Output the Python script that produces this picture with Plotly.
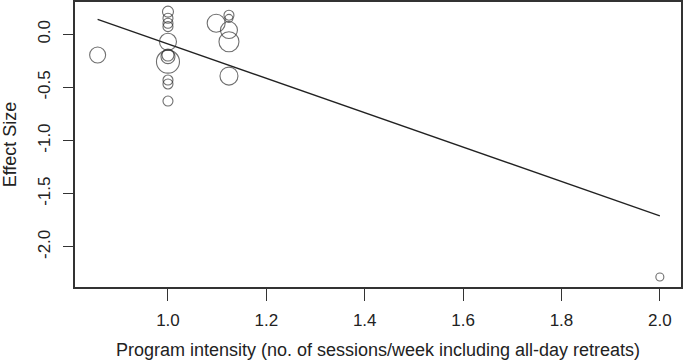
import plotly.graph_objects as go

# Study-level effect sizes vs program intensity
intensity = [0.857, 1.0, 1.0, 1.0, 1.0, 1.0, 1.0, 1.0, 1.0, 1.0, 1.0, 1.0,
             1.098, 1.124, 1.124, 1.124, 1.124, 1.124, 2.0]
effect = [-0.195, 0.213, 0.151, 0.104, 0.072, -0.07, -0.195, -0.21, -0.257,
          -0.43, -0.467, -0.628, 0.104, 0.18, 0.15, 0.04, -0.07, -0.393, -2.283]
weight_size = [16, 11, 10, 10, 10, 17, 12, 14, 23, 10, 10, 10,
               18, 10, 8, 17, 20, 18, 8]

# Meta-regression line endpoints
line_x = [0.857, 2.0]
line_y = [0.141, -1.708]

x_ticks = [1.0, 1.2, 1.4, 1.6, 1.8, 2.0]
y_ticks = [0.0, -0.5, -1.0, -1.5, -2.0]

fig = go.Figure()
fig.add_trace(go.Scatter(
    x=line_x, y=line_y, mode="lines",
    line=dict(color="#222222", width=1.3), showlegend=False, hoverinfo="skip"))
fig.add_trace(go.Scatter(
    x=intensity, y=effect, mode="markers",
    marker=dict(size=weight_size, color="rgba(0,0,0,0)", symbol="circle",
                line=dict(color="#333333", width=1.1)),
    showlegend=False))

font = "Liberation Sans, Arial, sans-serif"
fig.update_layout(
    width=685, height=364,
    margin=dict(l=75, r=4, t=2, b=77),
    paper_bgcolor="white", plot_bgcolor="white",
    font=dict(family=font, size=17, color="#222222"),
    xaxis=dict(
        range=[0.811, 2.043], tickvals=x_ticks,
        ticktext=[f"{v:.1f}" for v in x_ticks],
        automargin=False,
        showgrid=False, zeroline=False,
        showline=True, mirror=True, linecolor="#333333", linewidth=1.5,
        ticks="outside", ticklen=12, tickwidth=1.3, tickcolor="#333333",
        tickfont=dict(size=17), ticklabelstandoff=5,
        title=dict(text="Program intensity (no. of sessions/week including all-day retreats)",
                   font=dict(size=18), standoff=14),
    ),
    yaxis=dict(
        range=[-2.377, 0.304], tickvals=y_ticks,
        ticktext=[f"{v:.1f}" for v in y_ticks],
        tickangle=-90, automargin=False,
        showgrid=False, zeroline=False,
        showline=True, mirror=True, linecolor="#333333", linewidth=1.5,
        ticks="outside", ticklen=10, tickwidth=1.3, tickcolor="#333333",
        tickfont=dict(size=17), ticklabelstandoff=6,
        title=dict(text="Effect Size", font=dict(size=18), standoff=16),
    ),
)

fig.write_html("out.html", config={"displayModeBar": False},
               post_script="document.body.style.margin='0';")
